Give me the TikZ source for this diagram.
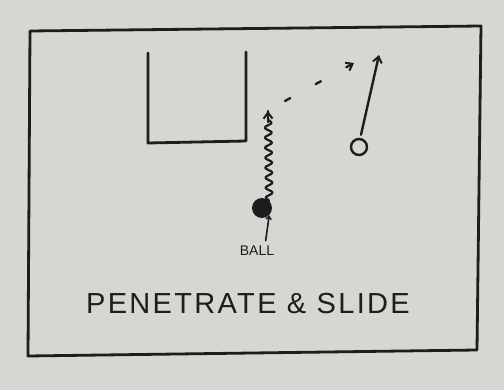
\documentclass[tikz,border=0pt]{standalone}
\usepackage{fontspec}
\setmainfont{Liberation Sans}
\usetikzlibrary{decorations.pathmorphing,arrows.meta}
\definecolor{paper}{RGB}{216,214,209}
\definecolor{ink}{RGB}{30,28,28}
\tikzset{
  pen/.style={draw=ink, line width=2.8pt, line cap=round, line join=round},
  barb/.style={-{Straight Barb[length=6pt,width=9pt,line width=2pt]}},
  ballnode/.style={circle, fill=ink, minimum size=20pt, inner sep=0pt},
  playernode/.style={circle, draw=ink, line width=2.4pt, minimum size=16pt, inner sep=0pt},
}
\begin{document}
\begin{tikzpicture}[x=1pt,y=-1pt]
\fill[paper] (0,0) rectangle (504,390);
\useasboundingbox (0,0) rectangle (504,390);
% frame
\draw[pen] (30,31) -- (481,26) -- (477,350) -- (28,356) -- cycle;
% lane
\draw[pen] (148,53) -- (148,143) -- (246,141) -- (246,52);
% ball and player
\node[ballnode] (ball) at (262,208) {};
\node[playernode] (o) at (359,147) {};
\coordinate (dribbleend) at (268,111);
\coordinate (cutend) at (379,55);
\coordinate (passstart) at (285,101);
\coordinate (passend) at (354,63);
% dribble
\draw[pen, line width=2.2pt, decorate, decoration={snake, segment length=10pt, amplitude=3.5pt, post length=8pt}] (ball.north east) -- (dribbleend);
\draw[pen, line width=2.2pt, barb] (268,122) -- (dribbleend);
% cut
\draw[pen, line width=2.4pt, barb] (o.north) ++(2,-3) -- (cutend);
% pass
\draw[pen, line width=2.4pt, dash pattern=on 6pt off 29pt, barb] (passstart) -- (passend);
% labels
\node[font=\fontsize{14}{14}\selectfont, text=ink] (lbl) at (257,251) {BALL};
\draw[pen, line width=1.6pt, -{Straight Barb[length=3pt,width=5pt]}] (lbl.north east) ++(-12,-2) -- (ball.south east);
\node[font=\fontsize{29}{29}\selectfont\addfontfeatures{LetterSpace=8}, text=ink] (title) at (248,304) {PENETRATE \& SLIDE};
\end{tikzpicture}
\end{document}
